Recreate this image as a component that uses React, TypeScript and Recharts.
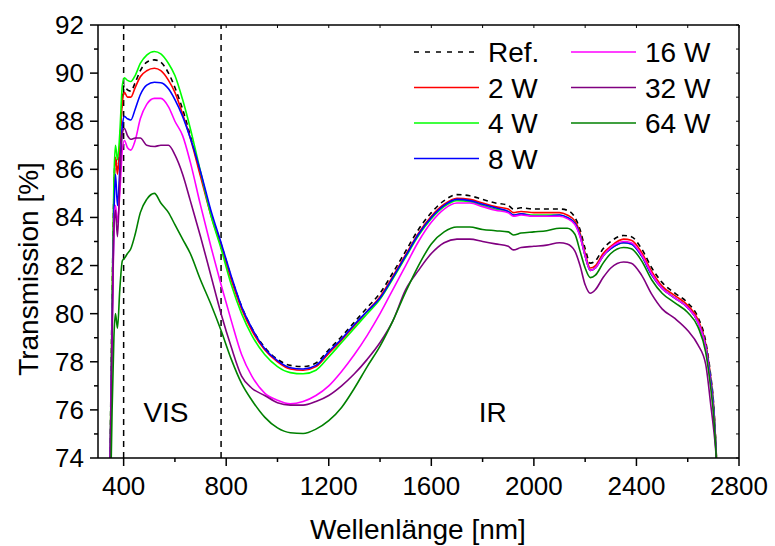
import React from "react";
import { LineChart, Line, XAxis, YAxis, ReferenceLine, ReferenceDot } from "recharts";

// wavelength grid [nm]
const wavelengths = [
  345, 355, 362, 368, 376, 385, 395, 403, 415, 428,
  445, 465, 490, 520, 545, 575, 600, 630, 660, 700,
  740, 780, 820, 860, 900, 950, 1000, 1050, 1100, 1150,
  1200, 1250, 1300, 1350, 1400, 1450, 1500, 1550, 1600, 1650,
  1700, 1750, 1800, 1850, 1900, 1920, 1950, 2000, 2050, 2100,
  2130, 2160, 2180, 2200, 2220, 2240, 2270, 2300, 2350, 2380,
  2420, 2460, 2500, 2550, 2600, 2640, 2670, 2690, 2700, 2710,
  2720,
];

// transmission [%] per sample
const refValues = [
  72, 80.5, 85, 86.5, 86, 87, 89.0, 89.5, 89.3, 89.25,
  89.6, 90.1, 90.45, 90.55, 90.45, 90.0, 89.4, 88.5, 87.4, 85.8,
  84.2, 82.9, 81.5, 80.3, 79.4, 78.6, 78.1, 77.85, 77.8, 77.95,
  78.5, 79.05, 79.65, 80.25, 80.85, 81.7, 82.6, 83.5, 84.2, 84.7,
  84.95, 84.9, 84.75, 84.6, 84.5, 84.35, 84.4, 84.35, 84.35, 84.35,
  84.3, 84.0, 83.5, 82.7, 82.1, 82.2, 82.7, 83.0, 83.25, 83.2,
  82.7, 81.9, 81.3, 80.85, 80.45, 79.85, 78.85, 77.4, 76.4, 74.5,
  72,
];
const w2Values = [
  72, 80, 85, 86.5, 85.8, 87.0, 88.8, 89.2, 89.0, 89.0,
  89.4, 89.85, 90.1, 90.2, 90.1, 89.7, 89.2, 88.3, 87.3, 85.7,
  84.1, 82.8, 81.4, 80.2, 79.3, 78.5, 78.0, 77.7, 77.65, 77.8,
  78.35, 78.9, 79.5, 80.1, 80.7, 81.55, 82.45, 83.35, 84.05, 84.55,
  84.8, 84.75, 84.6, 84.45, 84.35, 84.2, 84.25, 84.2, 84.2, 84.2,
  84.1, 83.85, 83.35, 82.5, 81.9, 82.0, 82.5, 82.8, 83.1, 83.05,
  82.55, 81.75, 81.15, 80.75, 80.35, 79.75, 78.75, 77.3, 76.3, 74.5,
  72,
];
const w4Values = [
  72, 80.5, 85.5, 87.0, 86.4, 87.5, 89.5, 89.8, 89.7, 89.65,
  89.9, 90.4, 90.75, 90.9, 90.8, 90.4, 89.9, 88.9, 87.7, 85.9,
  84.1, 82.7, 81.2, 80.0, 79.1, 78.3, 77.8, 77.55, 77.5, 77.65,
  78.2, 78.8, 79.4, 80.0, 80.6, 81.45, 82.35, 83.25, 83.95, 84.45,
  84.7, 84.65, 84.5, 84.35, 84.25, 84.1, 84.15, 84.1, 84.1, 84.1,
  84.0, 83.75, 83.25, 82.4, 81.8, 81.9, 82.4, 82.7, 82.95, 82.9,
  82.4, 81.6, 81.05, 80.65, 80.25, 79.65, 78.65, 77.2, 76.2, 74.4,
  72,
];
const w8Values = [
  72, 79.5, 84, 85.8, 84.5, 86.0, 87.8, 88.2, 88.1, 88.05,
  88.5, 89.1, 89.5, 89.62, 89.6, 89.35, 88.9, 88.2, 87.3, 85.9,
  84.3, 82.95, 81.55, 80.3, 79.4, 78.55, 78.05, 77.75, 77.7, 77.85,
  78.42, 78.95, 79.55, 80.1, 80.65, 81.5, 82.4, 83.3, 84.0, 84.5,
  84.75, 84.7, 84.55, 84.4, 84.25, 84.1, 84.15, 84.05, 84.05, 84.1,
  84.0, 83.75, 83.25, 82.4, 81.8, 81.9, 82.4, 82.7, 82.95, 82.9,
  82.4, 81.6, 81.05, 80.65, 80.25, 79.65, 78.65, 77.2, 76.2, 74.4,
  72,
];
const w16Values = [
  72, 79, 83.5, 84.5, 83.8, 85.0, 86.8, 87.2, 86.9, 86.8,
  87.2, 88.1, 88.7, 88.95, 88.95, 88.6, 88.0, 87.4, 86.3, 84.5,
  82.8, 81.2, 79.7, 78.3, 77.4, 76.7, 76.4, 76.25, 76.35, 76.6,
  77.0, 77.6, 78.3, 79.1, 80.0, 81.0, 82.0, 83.0, 83.8, 84.35,
  84.6, 84.6, 84.45, 84.3, 84.2, 84.05, 84.1, 84.05, 84.05, 84.05,
  83.95, 83.7, 83.2, 82.4, 81.8, 81.9, 82.4, 82.75, 83.0, 82.95,
  82.45, 81.65, 81.05, 80.65, 80.25, 79.65, 78.6, 77.0, 76.0, 74.3,
  72,
];
const w32Values = [
  72, 79, 83.5, 84.3, 83.2, 85.5, 87.5, 87.7, 87.4, 87.25,
  87.3, 87.3, 87.0, 86.95, 87.0, 87.0, 86.6, 85.8, 84.7, 83.2,
  81.6, 80.0, 78.6, 77.4, 76.9, 76.6, 76.3, 76.2, 76.2, 76.35,
  76.6, 77.0, 77.5, 78.1, 78.8, 79.7, 81.0, 81.8, 82.5, 82.95,
  83.1, 83.1, 83.0, 82.9, 82.8, 82.65, 82.75, 82.8, 82.85, 82.95,
  82.9, 82.6, 82.0, 81.2, 80.85, 81.0, 81.5, 81.9, 82.15, 82.1,
  81.6, 80.8, 80.2, 79.8, 79.3, 78.7, 77.9, 76.2, 75.3, 74.2,
  72,
];
const w64Values = [
  70, 76, 79, 80.0, 79.4, 81.0, 82.2, 82.3, 82.5, 82.7,
  83.3, 84.2, 84.75, 85.0, 84.6, 84.2, 83.7, 83.1, 82.5, 81.4,
  80.4, 79.3, 78.1, 77.1, 76.4, 75.7, 75.25, 75.05, 75.02, 75.2,
  75.55, 76.1, 76.9, 77.8, 78.65, 79.7, 80.9, 82.0, 82.9, 83.4,
  83.6, 83.6, 83.5, 83.45, 83.4, 83.27, 83.35, 83.4, 83.45, 83.55,
  83.55, 83.3, 82.6, 81.9, 81.5, 81.6, 82.1, 82.5, 82.75, 82.7,
  82.2, 81.4, 80.85, 80.45, 80.05, 79.45, 78.4, 76.9, 75.9, 74.3,
  72,
];

const xTicks = [400, 600, 800, 1000, 1200, 1400, 1600, 1800, 2000, 2200, 2400, 2600, 2800];
const xMajor = [400, 800, 1200, 1600, 2000, 2400, 2800];
const yTicks = [74, 75, 76, 77, 78, 79, 80, 81, 82, 83, 84, 85, 86, 87, 88, 89, 90, 91, 92];
const yMajor = [74, 76, 78, 80, 82, 84, 86, 88, 90, 92];
const regionLines = [400, 780];

const series = [
  { key: "ref", label: "Ref.", values: refValues, stroke: "#000000", dashed: true },
  { key: "w2", label: "2 W", values: w2Values, stroke: "#ff0000" },
  { key: "w4", label: "4 W", values: w4Values, stroke: "#00ff00" },
  { key: "w8", label: "8 W", values: w8Values, stroke: "#0000ff" },
  { key: "w16", label: "16 W", values: w16Values, stroke: "#ff00ff" },
  { key: "w32", label: "32 W", values: w32Values, stroke: "#800080" },
  { key: "w64", label: "64 W", values: w64Values, stroke: "#008000" },
];

const data = wavelengths.map((wl, i) => {
  const row: Record<string, number> = { wl };
  series.forEach((s) => (row[s.key] = s.values[i]));
  return row;
});

const FONT = "'Liberation Sans', Arial, sans-serif";

const BottomTick = ({ x, y, payload }: any) => {
  const major = xMajor.includes(payload.value);
  return (
    <g>
      <line x1={x} x2={x} y1={y} y2={y + (major ? 8 : 4)} stroke="#000" strokeWidth={1.5} />
      {major && (
        <text x={x} y={y + 37} textAnchor="middle" fontSize={26} fontFamily={FONT} fill="#000">
          {payload.value}
        </text>
      )}
    </g>
  );
};

const LeftTick = ({ x, y, payload }: any) => {
  const major = yMajor.includes(payload.value);
  return (
    <g>
      <line x1={x - (major ? 8 : 4)} x2={x} y1={y} y2={y} stroke="#000" strokeWidth={1.5} />
      {major && (
        <text x={x - 14} y={y + 9} textAnchor="end" fontSize={26} fontFamily={FONT} fill="#000">
          {payload.value}
        </text>
      )}
    </g>
  );
};

// top/right frame: short inward ticks only
const TopTick = ({ x, y }: any) => (
  <line x1={x} x2={x} y1={y} y2={y + 3} stroke="#000" strokeWidth={1} />
);
const RightTick = ({ x, y }: any) => (
  <line x1={x - 3} x2={x} y1={y} y2={y} stroke="#000" strokeWidth={1} />
);

const XTitle = () => (
  <text x={418} y={539} textAnchor="middle" fontSize={28} fontFamily={FONT} fill="#000">
    Wellenlänge [nm]
  </text>
);
const YTitle = () => (
  <text
    x={0}
    y={0}
    transform="translate(38 269) rotate(-90)"
    textAnchor="middle"
    fontSize={28}
    fontFamily={FONT}
    fill="#000"
  >
    Transmission [%]
  </text>
);

function LegendBox() {
  const col1 = series.slice(0, 4);
  const col2 = series.slice(4);
  const rowY = (i: number) => 52 + i * 35.5;
  const item = (s: any, i: number, x0: number) => (
    <g key={s.key}>
      <line
        x1={x0}
        x2={x0 + 65}
        y1={rowY(i)}
        y2={rowY(i)}
        stroke={s.stroke}
        strokeWidth={1.6}
        strokeDasharray={s.dashed ? "5 6" : undefined}
      />
      <text x={x0 + 74} y={rowY(i) + 10} fontSize={28} fontFamily={FONT} fill="#000">
        {s.label}
      </text>
    </g>
  );
  return (
    <svg
      width={775}
      height={546}
      style={{ position: "absolute", left: 0, top: 0, pointerEvents: "none" }}
    >
      {col1.map((s, i) => item(s, i, 414))}
      {col2.map((s, i) => item(s, i, 571))}
    </svg>
  );
}

export default function App() {
  return (
    <div style={{ position: "absolute", left: 0, top: 0, width: 775, height: 546, background: "#fff" }}>
      <LineChart
        width={775}
        height={546}
        data={data}
        margin={{ top: 24, right: 35, bottom: 1, left: 0 }}
      >
        <XAxis
          dataKey="wl"
          type="number"
          domain={[300, 2800]}
          allowDataOverflow
          ticks={xTicks}
          interval={0}
          height={87}
          tickSize={0}
          tickMargin={0}
          tickLine={false}
          tick={<BottomTick />}
          axisLine={{ stroke: "#000", strokeWidth: 1.5 }}
          label={<XTitle />}
        />
        <XAxis
          xAxisId="top"
          orientation="top"
          dataKey="wl"
          type="number"
          domain={[300, 2800]}
          allowDataOverflow
          ticks={xTicks}
          interval={0}
          height={1}
          tickSize={0}
          tickMargin={0}
          tickLine={false}
          tick={<TopTick />}
          axisLine={{ stroke: "#000", strokeWidth: 1.5 }}
        />
        <YAxis
          type="number"
          domain={[74, 92]}
          allowDataOverflow
          ticks={yTicks}
          interval={0}
          width={98}
          tickSize={0}
          tickMargin={0}
          tickLine={false}
          tick={<LeftTick />}
          axisLine={{ stroke: "#000", strokeWidth: 1.5 }}
          label={<YTitle />}
        />
        <YAxis
          yAxisId="right"
          orientation="right"
          type="number"
          domain={[74, 92]}
          allowDataOverflow
          ticks={yTicks}
          interval={0}
          width={1}
          tickSize={0}
          tickMargin={0}
          tickLine={false}
          tick={<RightTick />}
          axisLine={{ stroke: "#000", strokeWidth: 1.5 }}
        />

        {regionLines.map((x) => (
          <ReferenceLine key={x} x={x} stroke="#000" strokeWidth={1.5} strokeDasharray="6 5" />
        ))}

        <ReferenceDot
          x={565}
          y={75.9}
          r={0}
          fill="none"
          stroke="none"
          label={{ value: "VIS", position: "center", fontSize: 28, fill: "#000", fontFamily: FONT }}
        />
        <ReferenceDot
          x={1840}
          y={75.9}
          r={0}
          fill="none"
          stroke="none"
          label={{ value: "IR", position: "center", fontSize: 28, fill: "#000", fontFamily: FONT }}
        />

        {series.map((s) => (
          <Line
            key={s.key}
            type="monotone"
            dataKey={s.key}
            name={s.label}
            stroke={s.stroke}
            strokeWidth={1.6}
            strokeDasharray={s.dashed ? "5 4" : undefined}
            dot={false}
            isAnimationActive={false}
          />
        ))}
      </LineChart>
      <LegendBox />
    </div>
  );
}
